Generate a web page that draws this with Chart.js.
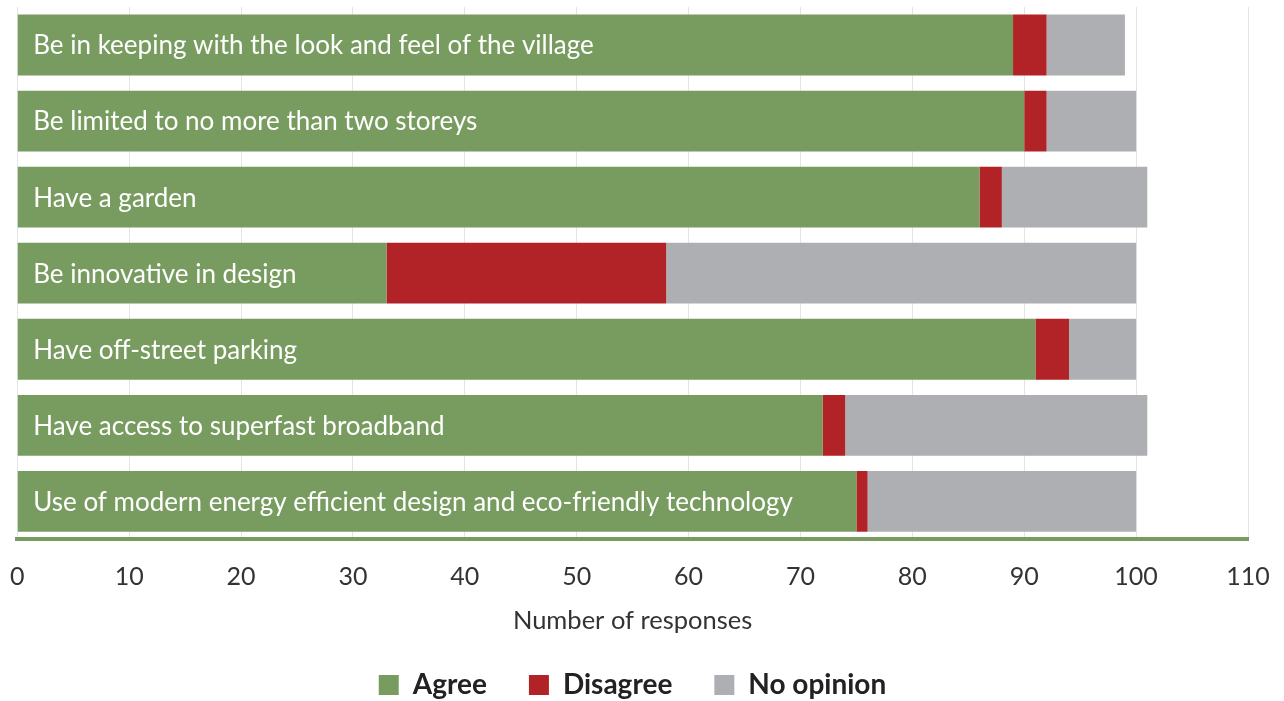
<!DOCTYPE html>
<html>
<head>
<meta charset="utf-8">
<script src="https://cdn.jsdelivr.net/npm/chart.js@4"></script>
<style>
  html, body { margin: 0; padding: 0; background: #fff; }
  #wrap { width: 1284px; height: 701px; }
</style>
</head>
<body>
<div id="wrap"><canvas id="surveyChart"></canvas></div>
<script>
const statements = [
    "Be in keeping with the look and feel of the village",
    "Be limited to no more than two storeys",
    "Have a garden",
    "Be innovative in design",
    "Have off-street parking",
    "Have access to superfast broadband",
    "Use of modern energy efficient design and eco-friendly technology"
];
const agree = [89, 90, 86, 33, 91, 72, 75];
const disagree = [3, 2, 2, 25, 3, 2, 1];
const noOpinion = [7, 8, 13, 42, 6, 27, 24];
const xTicks = [0, 10, 20, 30, 40, 50, 60, 70, 80, 90, 100, 110];

const GREEN = "#789c5f";
const RED = "#b22327";
const GREY = "#aeafb3";

// writes the statement inside the left end of each bar
const barLabels = {
    id: "barLabels",
    afterDatasetsDraw(chart) {
        const ctx = chart.ctx;
        const x0 = chart.scales.x.getPixelForValue(0);
        ctx.save();
        ctx.fillStyle = "#ffffff";
        ctx.font = "26px Lato";
        ctx.textBaseline = "middle";
        chart.getDatasetMeta(0).data.forEach((bar, i) => {
            ctx.fillText(statements[i], x0 + 16, bar.y + 1);
        });
        ctx.restore();
    }
};

const ctx = document.getElementById("surveyChart").getContext("2d");
new Chart(ctx, {
    type: "bar",
    data: {
        labels: statements,
        datasets: [
            { label: "Agree", data: agree, backgroundColor: GREEN },
            { label: "Disagree", data: disagree, backgroundColor: RED },
            { label: "No opinion", data: noOpinion, backgroundColor: GREY }
        ]
    },
    options: {
        indexAxis: "y",
        responsive: true,
        maintainAspectRatio: false,
        animation: false,
        barPercentage: 0.8,
        categoryPercentage: 1,
        layout: { padding: { left: 17, right: 36, top: 7, bottom: -8 } },
        scales: {
            x: {
                stacked: true,
                min: 0,
                max: 110,
                afterBuildTicks: axis => { axis.ticks = xTicks.map(v => ({ value: v })); },
                // invisible tick marks just push the labels down
                grid: { color: "#e4e4e4", lineWidth: 1, drawTicks: true, tickLength: 13, tickColor: "rgba(0,0,0,0)" },
                border: { color: GREEN, width: 4 },
                ticks: {
                    color: "#333333",
                    font: { family: "Lato", size: 25 },
                    padding: 10,
                    maxRotation: 0
                },
                title: {
                    display: true,
                    text: "Number of responses",
                    color: "#333333",
                    font: { family: "Lato", size: 25.5 },
                    padding: { top: 3, bottom: -7 }
                }
            },
            y: {
                stacked: true,
                display: false
            }
        },
        plugins: {
            legend: {
                position: "bottom",
                labels: {
                    color: "#222222",
                    font: { family: "Lato", size: 28, weight: "bold", lineHeight: 0.8 },
                    boxWidth: 20,
                    boxHeight: 20,
                    padding: 42
                }
            },
            tooltip: { enabled: false }
        }
    },
    plugins: [barLabels]
});
</script>
</body>
</html>
